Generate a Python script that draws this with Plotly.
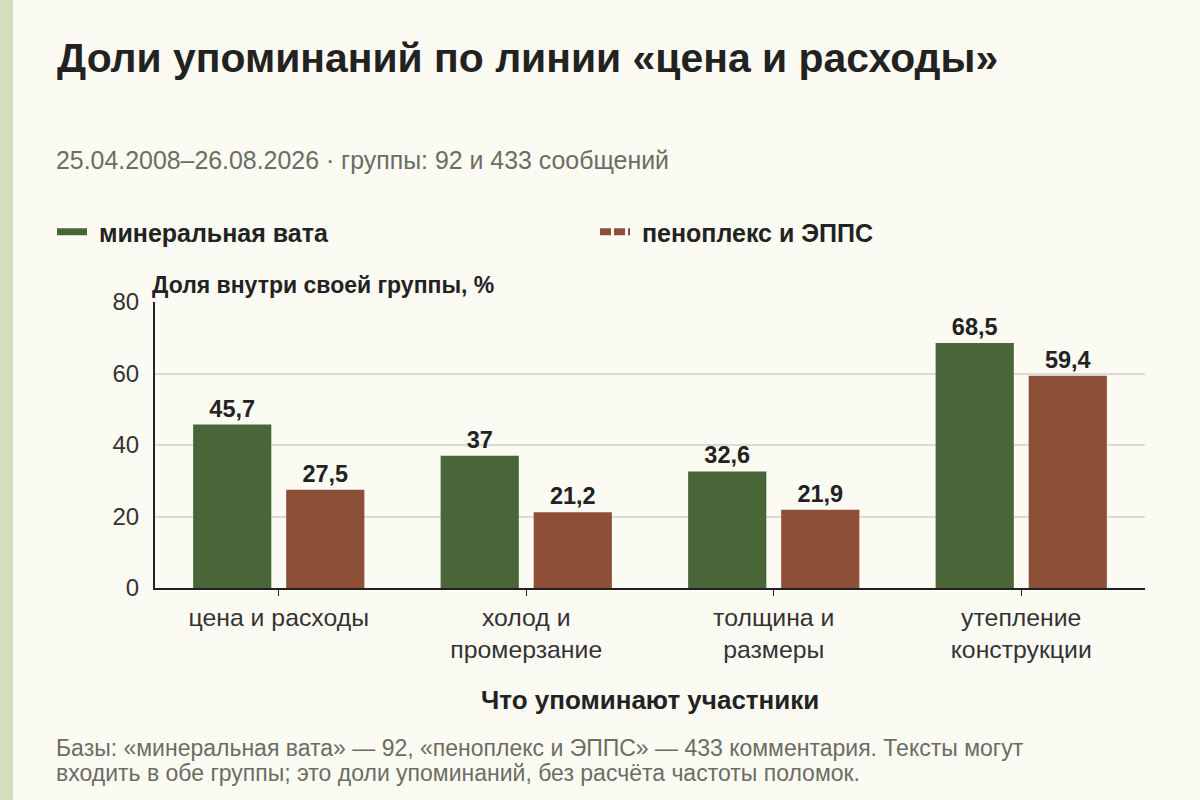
import plotly.graph_objects as go

categories = ["цена и расходы", "холод и<br>промерзание", "толщина и<br>размеры", "утепление<br>конструкции"]
mineral_wool = [45.7, 37, 32.6, 68.5]
penoplex = [27.5, 21.2, 21.9, 59.4]
mineral_labels = ["45,7", "37", "32,6", "68,5"]
penoplex_labels = ["27,5", "21,2", "21,9", "59,4"]

GREEN = "#4a6538"
BROWN = "#8e4f39"
BG = "#fcfbf3"
FONT = "Liberation Sans, Arial, sans-serif"

# plot area in pixels
L, R, T, B = 155, 55, 302, 212
W, H = 1200, 800
pw, ph = W - L - R, H - T - B


def px(x):
    return (x - L) / pw


def py(y):
    return (H - B - y) / ph


fig = go.Figure()

fig.add_trace(go.Bar(x=categories, y=mineral_wool, name="минеральная вата",
                     marker=dict(color=GREEN, line=dict(width=0)),
                     text=mineral_labels, textposition="outside",
                     textfont=dict(size=23.5, color="#222", family=FONT, weight="bold"),
                     cliponaxis=False, showlegend=False))
fig.add_trace(go.Bar(x=categories, y=penoplex, name="пеноплекс и ЭППС",
                     marker=dict(color=BROWN, line=dict(width=0)),
                     text=penoplex_labels, textposition="outside",
                     textfont=dict(size=23.5, color="#222", family=FONT, weight="bold"),
                     cliponaxis=False, showlegend=False))

# legend entries drawn as line swatches (nbsp pushes the text a bit off the swatch)
fig.add_trace(go.Scatter(x=[None], y=[None], mode="lines", name="\u00a0минеральная вата",
                         line=dict(color=GREEN, width=7), legend="legend"))
fig.add_trace(go.Scatter(x=[None], y=[None], mode="lines", name="\u00a0пеноплекс и ЭППС",
                         line=dict(color=BROWN, width=7, dash="11px,3px"), legend="legend2"))

legend_font = dict(size=25, color="#222", family=FONT, weight="bold")

fig.update_layout(
    width=W, height=H,
    margin=dict(l=L, r=R, t=T, b=B),
    paper_bgcolor=BG,
    plot_bgcolor=BG,
    font=dict(family=FONT, color="#222"),
    barmode="group",
    bargap=0.248,
    bargroupgap=0.16,
    legend=dict(orientation="h", xref="container", yref="container",
                x=52 / W, y=1 - 232 / H, xanchor="left", yanchor="middle",
                font=legend_font, bgcolor="rgba(0,0,0,0)"),
    legend2=dict(orientation="h", xref="container", yref="container",
                 x=595 / W, y=1 - 232 / H, xanchor="left", yanchor="middle",
                 font=legend_font, bgcolor="rgba(0,0,0,0)"),
    xaxis=dict(showline=True, linecolor="#222", linewidth=2,
               ticks="outside", ticklen=6, tickcolor="#222",
               tickfont=dict(size=24.8, color="#333")),
    yaxis=dict(range=[0, 80], dtick=20, showline=True, linecolor="#222", linewidth=2,
               gridcolor="#dcdad2", gridwidth=1.5, zeroline=False,
               tickfont=dict(size=24, color="#333"), ticks="", ticklabelstandoff=9),
    shapes=[dict(type="rect", xref="paper", yref="paper",
                 x0=px(0), x1=px(13), y0=py(820), y1=py(-20),
                 fillcolor="#d4ddc0", line=dict(width=0), layer="below")],
)

fig.add_annotation(text="<b>Доли упоминаний по линии «цена и расходы»</b>",
                   xref="paper", yref="paper", x=px(55), y=py(58),
                   xanchor="left", yanchor="middle", showarrow=False,
                   font=dict(size=40.9, color="#222"))
fig.add_annotation(text="25.04.2008–26.08.2026 · группы: 92 и 433 сообщений",
                   xref="paper", yref="paper", x=px(54), y=py(160),
                   xanchor="left", yanchor="middle", showarrow=False,
                   font=dict(size=24.9, color="#6a6d62"))
fig.add_annotation(text="<b>Доля внутри своей группы, %</b>",
                   xref="paper", yref="paper", x=px(150), y=py(285),
                   xanchor="left", yanchor="middle", showarrow=False,
                   font=dict(size=23, color="#222"))
fig.add_annotation(text="<b>Что упоминают участники</b>",
                   xref="paper", yref="paper", x=px(650), y=py(700),
                   xanchor="center", yanchor="middle", showarrow=False,
                   font=dict(size=26, color="#222"))
fig.add_annotation(text="Базы: «минеральная вата» — 92, «пеноплекс и ЭППС» — 433 комментария. Тексты могут",
                   xref="paper", yref="paper", x=px(54), y=py(748),
                   xanchor="left", yanchor="middle", showarrow=False,
                   font=dict(size=23, color="#6a6d62"))
fig.add_annotation(text="входить в обе группы; это доли упоминаний, без расчёта частоты поломок.",
                   xref="paper", yref="paper", x=px(54), y=py(773),
                   xanchor="left", yanchor="middle", showarrow=False,
                   font=dict(size=23, color="#6a6d62"))

fig.write_html("out.html", config={"displayModeBar": False},
               post_script="document.body.style.margin='0px';")
